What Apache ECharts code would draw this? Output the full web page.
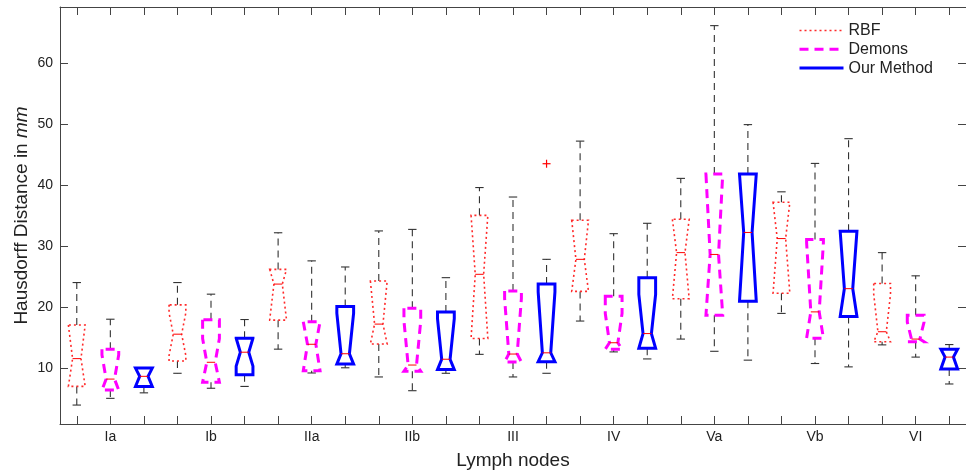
<!DOCTYPE html>
<html>
<head>
<meta charset="utf-8">
<script src="https://cdn.jsdelivr.net/npm/echarts@6/dist/echarts.min.js"></script>
<style>html,body{margin:0;padding:0;background:#fff}#c{width:966px;height:475px}</style>
</head>
<body>
<div id="c"></div>
<script>
// ---- data ----
const nodes = ['Ia', 'Ib', 'IIa', 'IIb', 'III', 'IV', 'Va', 'Vb', 'VI'];
// each entry: [lower whisker, Q1, median, Q3, upper whisker]
const rbfStats = [
  [4.0, 7.05, 11.6, 17.1, 24.05],
  [9.2, 11.2, 15.6, 20.4, 24.05],
  [13.15, 17.9, 23.8, 26.2, 32.2],
  [8.6, 14.0, 17.25, 24.3, 32.5],
  [12.3, 14.9, 25.4, 35.05, 39.6],
  [17.75, 22.6, 27.85, 34.25, 47.2],
  [14.8, 21.4, 28.95, 34.4, 41.1],
  [19.0, 22.3, 31.25, 37.2, 38.9],
  [13.85, 14.35, 16.0, 23.9, 28.95]
];
const demonsStats = [
  [5.1, 6.45, 8.25, 13.15, 18.05],
  [6.75, 7.75, 11.0, 17.95, 22.15],
  [9.25, 9.6, 13.95, 17.65, 27.6],
  [6.35, 9.55, 10.55, 19.85, 32.75],
  [8.6, 11.05, 12.35, 22.65, 38.05],
  [12.7, 13.15, 14.2, 21.8, 32.05],
  [12.8, 18.7, 28.65, 41.8, 66.1],
  [10.8, 14.95, 19.25, 31.1, 43.55],
  [11.85, 14.35, 14.8, 18.7, 25.15]
];
const oursStats = [
  [6.0, 7.05, 8.7, 10.05, 10.1],
  [7.05, 8.95, 12.65, 14.95, 18.0],
  [10.1, 10.7, 12.4, 20.15, 26.6],
  [9.2, 9.8, 11.5, 19.25, 24.85],
  [9.2, 11.1, 12.55, 23.8, 27.85],
  [11.55, 13.3, 15.7, 24.85, 33.75],
  [11.35, 21.0, 32.25, 41.8, 49.9],
  [10.25, 18.5, 23.05, 32.45, 47.6],
  [7.45, 9.9, 11.85, 13.15, 13.9]
];
// estimated sample size per lymph node level (controls notch length)
const nodeSampleSize = [7, 17, 5, 5, 4, 8, 7, 5, 6];
// outliers: [node index, method index, value]
const outliers = [[4, 2, 43.5]];
const methodNames = ['RBF', 'Demons', 'Our Method'];
const yTicks = [10, 20, 30, 40, 50, 60];

// ---- styles ----
const methodStyles = [
  { color: '#ff2a2a', width: 1.6, dash: [2, 3] },
  { color: '#ff00ff', width: 3, dash: [9, 6] },
  { color: '#0000ff', width: 3, dash: null }
];
const FONT = '"Liberation Sans", Arial, Helvetica, sans-serif';
const allStats = [rbfStats, demonsStats, oursStats];

function boxData(m) {
  return allStats[m].map((s, i) => [i * 3 + m + 1, s[0], s[1], s[2], s[3], s[4], nodeSampleSize[i]]);
}

function makeRender(m) {
  const st = methodStyles[m];
  return function (params, api) {
    const x = api.value(0);
    const lo = api.value(1), q1 = api.value(2), med = api.value(3), q3 = api.value(4), hi = api.value(5), n = api.value(6);
    const c = 1.57 * (q3 - q1) / Math.sqrt(n);
    const nlo = Math.max(q1, med - c), nhi = Math.min(q3, med + c);
    const P = v => api.coord([x, v]);
    const X = P(med)[0];
    const W = api.size([0.25, 0])[0];
    const yl = P(lo)[1], y1 = P(q1)[1], ym = P(med)[1], y3 = P(q3)[1], yh = P(hi)[1];
    const ynl = P(nlo)[1], ynh = P(nhi)[1];
    const children = [];
    const wStyle = { stroke: '#333', lineWidth: 1.1, lineDash: [7, 5] };
    const cStyle = { stroke: '#333', lineWidth: 1.1 };
    if (hi > q3) children.push({ type: 'line', shape: { x1: X, y1: y3, x2: X, y2: yh }, style: wStyle });
    if (lo < q1) children.push({ type: 'line', shape: { x1: X, y1: y1, x2: X, y2: yl }, style: wStyle });
    children.push({ type: 'line', shape: { x1: X - W / 2, y1: yh, x2: X + W / 2, y2: yh }, style: cStyle });
    children.push({ type: 'line', shape: { x1: X - W / 2, y1: yl, x2: X + W / 2, y2: yl }, style: cStyle });
    const pts = [
      [X - W, y3], [X - W, ynh], [X - W / 2, ym], [X - W, ynl], [X - W, y1],
      [X + W, y1], [X + W, ynl], [X + W / 2, ym], [X + W, ynh], [X + W, y3]
    ];
    const bs = { fill: 'none', stroke: st.color, lineWidth: st.width, lineJoin: 'miter' };
    if (st.dash) bs.lineDash = st.dash;
    children.push({ type: 'polygon', shape: { points: pts }, style: bs });
    children.push({ type: 'line', shape: { x1: X - W / 2, y1: ym, x2: X + W / 2, y2: ym }, style: { stroke: '#ff0000', lineWidth: 1 } });
    return { type: 'group', children };
  };
}

const series = [];
// legend carriers
methodNames.forEach((name, m) => {
  series.push({
    type: 'line', name, data: [], symbol: 'none',
    lineStyle: { color: methodStyles[m].color, width: methodStyles[m].width, type: methodStyles[m].dash || 'solid' },
    itemStyle: { color: methodStyles[m].color }
  });
});
methodNames.forEach((name, m) => {
  series.push({
    type: 'custom', name: name + ' boxes',
    renderItem: makeRender(m),
    encode: { x: 0, y: [1, 2, 3, 4, 5] },
    data: boxData(m),
    z: 3
  });
});
series.push({
  type: 'custom', name: 'outliers',
  data: outliers.map(o => [o[0] * 3 + o[1] + 1, o[2]]),
  encode: { x: 0, y: 1 },
  renderItem: function (params, api) {
    const p = api.coord([api.value(0), api.value(1)]);
    const s = 4;
    return { type: 'group', children: [
      { type: 'line', shape: { x1: p[0] - s, y1: p[1], x2: p[0] + s, y2: p[1] }, style: { stroke: '#ff0000', lineWidth: 1.2 } },
      { type: 'line', shape: { x1: p[0], y1: p[1] - s, x2: p[0], y2: p[1] + s }, style: { stroke: '#ff0000', lineWidth: 1.2 } }
    ] };
  },
  z: 4
});

const tickPositions = [];
for (let i = 1; i <= nodes.length * 3; i++) tickPositions.push(i);
const labelPositions = nodes.map((_, i) => i * 3 + 2);

const axisLineStyle = { color: '#444', width: 1 };
const option = {
  animation: false,
  backgroundColor: '#fff',
  grid: { left: 60, top: 7, width: 913, height: 418 },
  legend: {
    orient: 'vertical', left: 798, top: 21.5, padding: 0,
    itemWidth: 44, itemHeight: 18, itemGap: 0.8,
    textStyle: { fontSize: 16, fontFamily: FONT, color: '#222', lineHeight: 18 },
    itemStyle: { opacity: 0 },
    data: methodNames.map((name, m) => ({
      name,
      itemStyle: { opacity: 0 },
      lineStyle: { color: methodStyles[m].color, width: methodStyles[m].width, type: methodStyles[m].dash || 'solid' }
    }))
  },
  xAxis: [
    {
      type: 'value', position: 'bottom', min: 0.5, max: 27.5,
      name: 'Lymph nodes', nameLocation: 'middle', nameGap: 27, nameMoveOverlap: false,
      nameTextStyle: { fontSize: 19, fontFamily: FONT, color: '#222' },
      axisLine: { show: true, onZero: false, lineStyle: axisLineStyle },
      axisTick: { show: true, inside: true, length: 8, customValues: tickPositions, lineStyle: axisLineStyle },
      axisLabel: {
        customValues: labelPositions, margin: 6, fontSize: 14, fontFamily: FONT, color: '#222',
        formatter: v => nodes[Math.round((v - 2) / 3)]
      },
      splitLine: { show: false }
    },
    {
      type: 'value', position: 'top', min: 0.5, max: 27.5,
      axisLine: { show: true, onZero: false, lineStyle: axisLineStyle },
      axisTick: { show: true, inside: true, length: 8, customValues: tickPositions, lineStyle: axisLineStyle },
      axisLabel: { show: false },
      splitLine: { show: false }
    }
  ],
  yAxis: [
    {
      type: 'value', position: 'left', min: 0.9, max: 69.15,
      name: '{a|Hausdorff Distance in }{b|mm}', nameLocation: 'middle', nameGap: 29, nameRotate: 90,
      nameMoveOverlap: false,
      nameTextStyle: {
        fontSize: 19, fontFamily: FONT, color: '#222',
        rich: {
          a: { fontSize: 19, fontFamily: FONT, color: '#222' },
          b: { fontSize: 19, fontFamily: FONT, color: '#222', fontStyle: 'italic' }
        }
      },
      axisLine: { show: true, onZero: false, lineStyle: axisLineStyle },
      axisTick: { show: true, inside: true, length: 8, customValues: yTicks, lineStyle: axisLineStyle },
      axisLabel: { customValues: yTicks, margin: 7, fontSize: 14, fontFamily: FONT, color: '#222' },
      splitLine: { show: false }
    },
    {
      type: 'value', position: 'right', min: 0.9, max: 69.15,
      axisLine: { show: true, onZero: false, lineStyle: axisLineStyle },
      axisTick: { show: true, inside: true, length: 8, customValues: yTicks, lineStyle: axisLineStyle },
      axisLabel: { show: false },
      splitLine: { show: false }
    }
  ],
  series
};

const chart = echarts.init(document.getElementById('c'), null, { renderer: 'canvas' });
chart.setOption(option);
</script>
</body>
</html>
